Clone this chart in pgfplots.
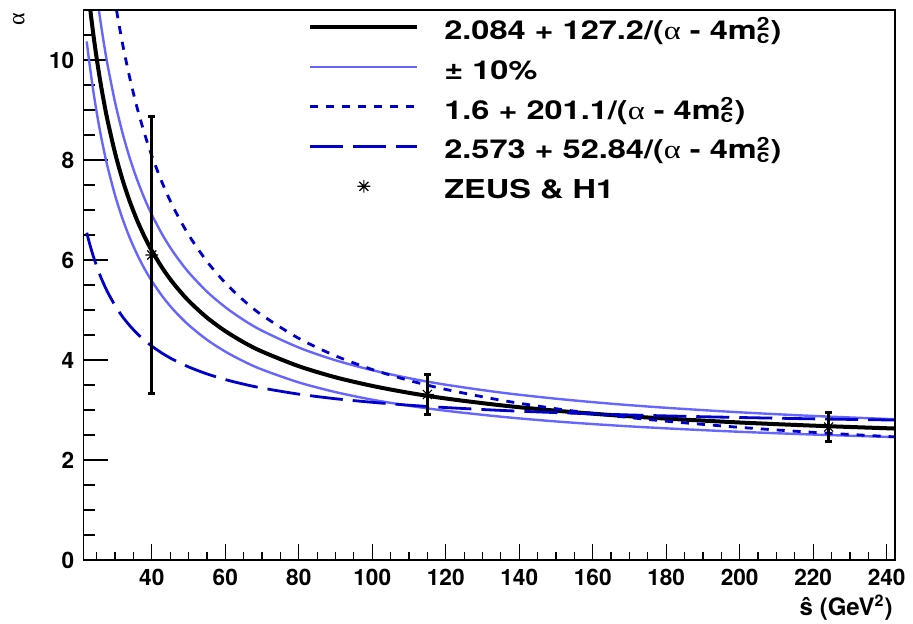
\documentclass[border=0pt]{standalone}
\usepackage{graphicx}
\usepackage{fontspec}
\setmainfont{TeX Gyre Heros}
\newfontfamily\grk{Liberation Serif}
\usepackage{pgfplots}
\pgfplotsset{compat=1.18}
\usepackage{pgfplotstable}

\definecolor{lightb}{RGB}{102,102,255}
\definecolor{darkb}{RGB}{0,0,204}

% ROOT style star: 8 spokes
\pgfdeclareplotmark{rootstar}{%
  \pgfpathmoveto{\pgfpoint{-\pgfplotmarksize}{0pt}}\pgfpathlineto{\pgfpoint{\pgfplotmarksize}{0pt}}%
  \pgfpathmoveto{\pgfpoint{0pt}{-\pgfplotmarksize}}\pgfpathlineto{\pgfpoint{0pt}{\pgfplotmarksize}}%
  \pgfpathmoveto{\pgfpoint{-0.707\pgfplotmarksize}{-0.707\pgfplotmarksize}}\pgfpathlineto{\pgfpoint{0.707\pgfplotmarksize}{0.707\pgfplotmarksize}}%
  \pgfpathmoveto{\pgfpoint{-0.707\pgfplotmarksize}{0.707\pgfplotmarksize}}\pgfpathlineto{\pgfpoint{0.707\pgfplotmarksize}{-0.707\pgfplotmarksize}}%
  \pgfusepathqstroke}

% curves
\pgfplotstableread{
x     f      up     lo     dot    ld
22.3  11.648 13.188 10.371 16.720 6.546
23    11.170 12.638 9.951  15.964 6.347
24    10.564 11.941 9.420  15.007 6.096
25    10.034 11.332 8.955  14.169 5.876
26    9.566  10.794 8.545  13.429 5.681
27    9.151  10.316 8.180  12.772 5.509
28    8.779  9.888  7.854  12.184 5.354
30    8.141  9.155  7.294  11.176 5.089
32    7.614  8.549  6.832  10.343 4.870
34    7.172  8.040  6.444  9.644  4.687
36    6.795  7.607  6.113  9.048  4.530
38    6.470  7.233  5.828  8.534  4.395
40    6.187  6.907  5.580  8.087  4.278
43    5.825  6.491  5.262  7.515  4.127
46    5.522  6.142  4.996  7.035  4.001
50    5.186  5.756  4.702  6.505  3.862
55    4.849  5.368  4.406  5.972  3.722
60    4.578  5.057  4.168  5.543  3.609
65    4.355  4.800  3.973  5.191  3.517
70    4.169  4.586  3.809  4.897  3.439
80    3.876  4.249  3.552  4.432  3.317
90    3.654  3.994  3.358  4.083  3.225
100   3.482  3.796  3.206  3.810  3.154
110   3.343  3.637  3.085  3.591  3.096
120   3.230  3.506  2.985  3.412  3.049
135   3.094  3.349  2.866  3.196  2.992
150   2.986  3.226  2.771  3.026  2.948
165   2.899  3.126  2.695  2.889  2.912
180   2.828  3.044  2.633  2.776  2.882
200   2.750  2.954  2.564  2.653  2.850
220   2.687  2.881  2.509  2.553  2.823
242.3 2.629  2.815  2.458  2.462  2.799
}\curves

\pgfplotstableread{
x     y     e
40    6.10  2.77
115   3.31  0.40
224.2 2.66  0.29
}\points

\newcommand\lgt[1]{\scalebox{1.25}[1]{\rule[-7pt]{0pt}{21pt}#1}}
\newcommand\mcc{4m\rlap{\textsuperscript{2}}\textsubscript{c}}

\pgfplotsset{
  rootbase/.style={
    scale only axis, width=405.85pt, height=275pt,
    xmin=21.36, xmax=242.27, ymin=0, ymax=11,
    axis line style={line width=0.75pt},
    tick align=inside,
    tick style={line width=0.6pt, black},
    xtick pos=left, ytick pos=left,
    ticklabel style={font=\fontsize{11.3}{13}\selectfont\bfseries},
    /pgf/number format/assume math mode=true,
  },
  linelegimg/.style={legend image code/.code={\draw[##1] (0pt,0pt) -- (53.5pt,0pt);}},
  marklegimg/.style={legend image code/.code={\draw[##1] plot coordinates {(26.75pt,0pt)};}},
}

\begin{document}
\begin{tikzpicture}
\begin{axis}[
  rootbase,
  xtick=\empty,
  ytick={0,2,...,10},
  minor ytick={0.5,1,...,10.5},
  major tick length=12.5pt, minor tick length=6pt,
  yticklabel style={xshift=-1pt},
  ylabel={\grk α},
  ylabel style={at={(rel axis cs:-0.0793,0.9825)}, anchor=center,
    font=\fontsize{12}{14}\selectfont},
  xlabel={ŝ (GeV\textsuperscript{2})},
  xlabel style={at={(rel axis cs:0.9975,-0.0636)}, anchor=north east,
    inner sep=0pt, font=\fontsize{12}{14}\selectfont\bfseries},
  linelegimg,
  legend cell align=left,
  legend style={draw=none, fill=none, inner sep=0pt,
    at={(rel axis cs:0.2768,0.9978)}, anchor=north west,
    row sep=4.4pt, column sep=12.5pt,
    font=\fontsize{13}{15}\selectfont\bfseries,
    nodes={inner sep=0pt}},
]
\coordinate (sw) at (rel axis cs:0,0);
\coordinate (ne) at (rel axis cs:1,1);

\addplot[black, line width=2pt, smooth] table[x=x, y=f] {\curves};
\addplot[lightb, line width=1.2pt, smooth] table[x=x, y=up] {\curves};
\addplot[lightb, line width=1.2pt, smooth, forget plot] table[x=x, y=lo] {\curves};
\addplot[darkb, line width=1.4pt, smooth, dash pattern=on 4pt off 4pt] table[x=x, y=dot] {\curves};
\addplot[darkb, line width=1.4pt, smooth, dash pattern=on 16.5pt off 5pt] table[x=x, y=ld] {\curves};
\addplot[black, only marks, mark=rootstar, mark size=3.2pt,
  mark options={line width=0.6pt}, marklegimg,
  error bars/.cd, y dir=both, y explicit,
  error bar style={line width=1.4pt, black},
  error mark options={rotate=90, mark size=1.75pt, line width=1.4pt, black}]
  table[x=x, y=y, y error=e] {\points};

\legend{\lgt{2.084 + 127.2/({\grk\mdseries α} - \mcc)},
  \lgt{± 10\%},
  \lgt{1.6 + 201.1/({\grk\mdseries α} - \mcc)},
  \lgt{2.573 + 52.84/({\grk\mdseries α} - \mcc)},
  \lgt{ZEUS \& H1}}
\end{axis}

\begin{axis}[
  rootbase,
  xtick={40,60,...,240},
  minor xtick={25,30,...,240},
  ytick=\empty,
  major tick length=8pt, minor tick length=4pt,
  xticklabel style={yshift=-1pt},
]
\addplot[draw=none] coordinates {(100,5)};
\end{axis}

\pgfresetboundingbox
\path[use as bounding box] ([xshift=-41.65pt,yshift=-32pt]sw) rectangle ([xshift=9pt,yshift=5pt]ne);
\end{tikzpicture}
\end{document}
